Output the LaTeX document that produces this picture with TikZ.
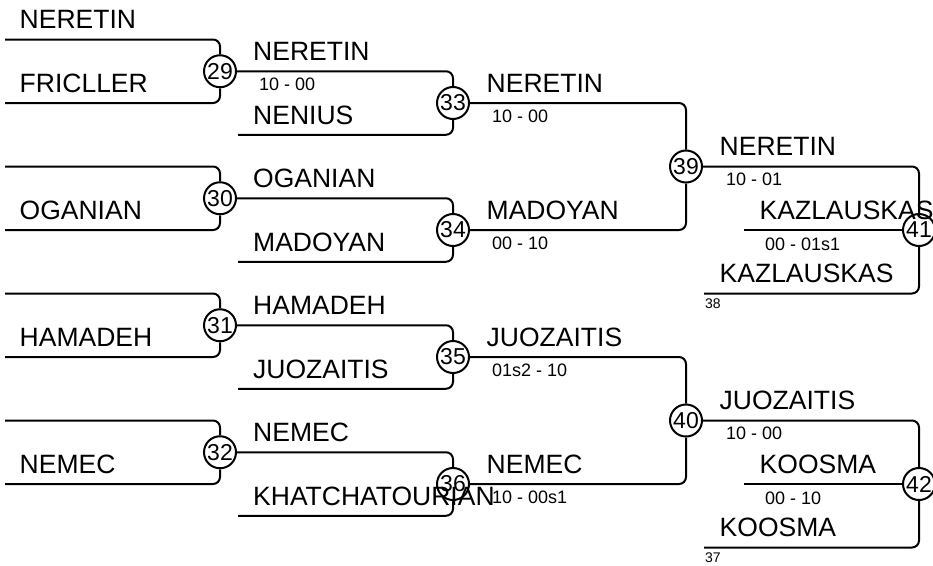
\documentclass[tikz,border=0pt]{standalone}
\usepackage{fontspec}
\setmainfont{Liberation Sans}
\usepackage{tikz}
\usetikzlibrary{positioning}

\tikzset{game/.style={circle, draw, fill=white, line width=2pt, minimum size=32pt, inner sep=0pt,
           font=\fontsize{23}{23}\selectfont},
         player/.style={anchor=base west, inner sep=0pt, font=\fontsize{26.5}{26.5}\selectfont},
         score/.style={anchor=base west, inner sep=0pt, font=\fontsize{18}{18}\selectfont},
         fromgame/.style={anchor=base west, inner sep=0pt, font=\fontsize{14}{14}\selectfont},
         wire/.style={line width=2pt, rounded corners=7pt}}

\begin{document}
\begin{tikzpicture}[x=1pt, y=-1pt]
\useasboundingbox (0,0) rectangle (933,565);
% games
\node[game] (g29) at (220, 71.25) {29};
\node[game] (g30) at (220, 198.25) {30};
\node[game] (g31) at (220, 325.25) {31};
\node[game] (g32) at (220, 452.25) {32};
\node[game] (g33) at (453, 103) {33};
\node[game] (g34) at (453, 230) {34};
\node[game] (g35) at (453, 357) {35};
\node[game] (g36) at (453, 484) {36};
\node[game] (g39) at (686, 166.5) {39};
\node[game] (g40) at (686, 420.5) {40};
\node[game] (g41) at (919, 230) {41};
\node[game] (g42) at (919, 484) {42};
% free ends
\coordinate (e1) at (5, 39.5);
\coordinate (e2) at (5, 103);
\coordinate (e3) at (5, 166.5);
\coordinate (e4) at (5, 230);
\coordinate (e5) at (5, 293.5);
\coordinate (e6) at (5, 357);
\coordinate (e7) at (5, 420.5);
\coordinate (e8) at (5, 484);
\coordinate (f33) at (238, 134.75);
\coordinate (f34) at (238, 261.75);
\coordinate (f35) at (238, 388.75);
\coordinate (f36) at (238, 515.75);
\coordinate (k41) at (744, 230);
\coordinate (b41) at (704, 293.5);
\coordinate (k42) at (744, 484);
\coordinate (b42) at (704, 547.5);
% wires
\draw[wire] (e1) -| (g29);
\draw[wire] (e2) -| (g29);
\draw[wire] (e3) -| (g30);
\draw[wire] (e4) -| (g30);
\draw[wire] (e5) -| (g31);
\draw[wire] (e6) -| (g31);
\draw[wire] (e7) -| (g32);
\draw[wire] (e8) -| (g32);
\draw[wire] (g29) -| (g33);
\draw[wire] (f33) -| (g33);
\draw[wire] (g30) -| (g34);
\draw[wire] (f34) -| (g34);
\draw[wire] (g31) -| (g35);
\draw[wire] (f35) -| (g35);
\draw[wire] (g32) -| (g36);
\draw[wire] (f36) -| (g36);
\draw[wire] (g33) -| (g39);
\draw[wire] (g34) -| (g39);
\draw[wire] (g35) -| (g40);
\draw[wire] (g36) -| (g40);
\draw[wire] (g39) -| (g41);
\draw[wire] (k41) -- (g41);
\draw[wire] (b41) -| (g41);
\draw[wire] (g40) -| (g42);
\draw[wire] (k42) -- (g42);
\draw[wire] (b42) -| (g42);
% first round
\node[player] (p1) at (19.5, 28.5) {NERETIN};
\node[player] (p2) at (19.5, 92.5) {FRICLLER};
\node[player] (p4) at (19.5, 219.5) {OGANIAN};
\node[player] (p6) at (19.5, 346.5) {HAMADEH};
\node[player] (p8) at (19.5, 473.5) {NEMEC};
% second round
\node[player] (q1) at (253, 60.25) {NERETIN};
\node[score] (r1) at (259, 90.25) {10 - 00};
\node[player] (q2) at (253, 124) {NENIUS};
\node[player] (q3) at (253, 187.25) {OGANIAN};
\node[player] (q4) at (253, 251) {MADOYAN};
\node[player] (q5) at (253, 314.25) {HAMADEH};
\node[player] (q6) at (253, 378) {JUOZAITIS};
\node[player] (q7) at (253, 441.25) {NEMEC};
\node[player] (q8) at (253, 505.5) {KHATCHATOURIAN};
% third round
\node[player] (t1) at (486.5, 92) {NERETIN};
\node[score] (u1) at (492, 122) {10 - 00};
\node[player] (t2) at (486.5, 219) {MADOYAN};
\node[score] (u2) at (492, 249) {00 - 10};
\node[player] (t3) at (486.5, 346) {JUOZAITIS};
\node[score] (u3) at (492, 376) {01s2 - 10};
\node[player] (t4) at (486.5, 473) {NEMEC};
\node[score] (u4) at (492, 503) {10 - 00s1};
% last round
\node[player] (v1) at (719.5, 155.5) {NERETIN};
\node[score] (w1) at (726, 185.5) {10 - 01};
\node[player] (v2) at (759.5, 219) {KAZLAUSKAS};
\node[score] (w2) at (765, 250) {00 - 01s1};
\node[player] (v3) at (719.5, 282.5) {KAZLAUSKAS};
\node[fromgame] (x1) at (705, 308) {38};
\node[player] (v4) at (719.5, 409.5) {JUOZAITIS};
\node[score] (w3) at (726, 439.5) {10 - 00};
\node[player] (v5) at (759.5, 473) {KOOSMA};
\node[score] (w4) at (765, 504) {00 - 10};
\node[player] (v6) at (719.5, 536.5) {KOOSMA};
\node[fromgame] (x2) at (705, 562) {37};
\end{tikzpicture}
\end{document}
